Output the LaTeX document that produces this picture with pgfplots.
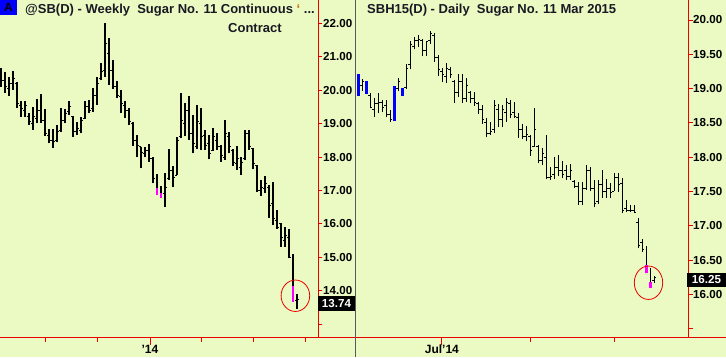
\documentclass[border=0pt]{standalone}
\usepackage{pgfplots}
\pgfplotsset{compat=1.18}
\usepackage{pgfplotstable}
\usepackage{fontspec}
\setmainfont{Liberation Sans}
\definecolor{bg}{RGB}{235,250,195}
\definecolor{axred}{RGB}{235,0,0}
\definecolor{hlmag}{RGB}{255,0,255}
\definecolor{hlblue}{RGB}{0,0,255}
\definecolor{titlecol}{RGB}{25,25,35}

\pgfdeclareplotmark{otick}{\pgfpathmoveto{\pgfqpoint{-1.9pt}{0pt}}\pgfpathlineto{\pgfqpoint{0pt}{0pt}}\pgfusepathqstroke}
\pgfdeclareplotmark{ctick}{\pgfpathmoveto{\pgfqpoint{0pt}{0pt}}\pgfpathlineto{\pgfqpoint{1.9pt}{0pt}}\pgfusepathqstroke}
\pgfdeclareplotmark{nomark}{}

\pgfplotstableread{
x h l o c
0 20.65 20.10 20.45 20.30
1 20.53 19.91 20.30 20.10
2 20.40 19.83 20.05 20.20
3 20.57 20.00 20.20 20.35
4 20.25 19.46 20.20 19.60
5 19.68 19.21 19.55 19.45
6 19.68 19.21 19.40 19.55
7 19.31 18.96 19.20 19.05
8 19.51 18.81 19.00 19.20
9 19.74 19.01 19.15 19.40
10 19.88 19.01 19.40 19.10
11 19.44 18.64 19.10 18.70
12 18.84 18.41 18.65 18.50
13 18.84 18.28 18.50 18.45
14 18.96 18.44 18.50 18.75
15 19.46 18.76 18.80 19.10
16 19.44 19.01 19.10 19.30
17 19.68 19.26 19.35 19.50
18 19.24 18.61 19.20 18.75
19 19.04 18.66 18.75 18.85
20 19.21 18.71 18.80 19.10
21 19.68 19.14 19.15 19.50
22 19.71 19.31 19.50 19.40
23 20.07 19.36 19.45 19.85
24 20.40 19.56 19.85 20.20
25 20.80 20.30 20.35 20.55
26 22.00 20.39 20.60 21.40
27 21.56 20.15 21.10 20.60
28 20.90 20.03 20.60 20.10
29 20.28 19.76 20.10 19.85
30 20.00 19.31 19.80 19.60
31 19.68 19.16 19.55 19.40
32 19.46 18.96 19.40 19.05
33 19.06 18.33 19.00 18.50
34 18.66 18.01 18.50 18.35
35 18.29 17.66 18.30 18.15
36 18.29 17.99 18.10 18.20
37 18.39 17.86 18.20 17.95
38 18.01 17.21 17.95 17.35
39 17.49 16.86 nan nan
40 17.13 16.77 nan nan
41 17.51 16.50 16.90 17.10
42 18.23 17.31 17.35 17.60
43 17.73 17.09 17.60 17.40
44 18.61 17.46 17.45 18.50
45 19.92 18.56 18.60 19.10
46 19.61 18.63 19.00 19.40
47 19.83 18.51 19.40 18.70
48 19.26 18.11 18.70 18.40
49 19.56 18.23 18.30 19.05
50 19.46 18.21 19.00 18.60
51 18.81 18.21 18.65 18.35
52 18.66 17.93 18.40 18.10
53 18.86 18.19 18.20 18.60
54 18.71 18.21 18.50 18.30
55 18.36 17.86 18.30 18.05
56 19.11 17.91 18.00 18.70
57 18.76 18.11 18.60 18.30
58 18.23 17.73 18.20 17.85
59 18.33 17.61 17.80 17.95
60 17.99 17.46 17.70 17.85
61 18.81 17.91 17.95 18.70
62 18.81 18.21 18.70 18.30
63 18.26 17.63 18.25 17.80
64 17.76 16.96 17.75 17.00
65 17.31 16.83 17.00 17.10
66 17.43 16.91 17.05 17.20
67 17.16 16.17 17.10 16.55
68 17.26 15.97 16.60 16.15
69 16.42 15.84 16.10 15.90
70 16.02 15.32 16.00 15.60
71 15.92 15.32 15.50 15.65
72 15.84 14.97 15.60 15.00
73 15.10 13.67 nan nan
74 13.90 13.45 13.70 13.74
}\weekly

\pgfplotstableread{
x t b
39 17.08 16.86
40 16.91 16.77
73 14.14 13.67
}\weekmag

\pgfplotstableread{
x h l o c
0 19.21 18.89 nan nan
1 19.14 18.97 19.05 19.10
2 19.11 18.92 nan nan
3 18.94 18.71 18.90 18.72
4 18.86 18.59 18.70 18.78
5 18.93 18.65 18.78 18.80
6 18.83 18.66 18.80 18.72
7 18.84 18.58 18.75 18.62
8 18.69 18.52 18.62 18.55
9 19.04 18.53 nan nan
10 19.16 18.97 19.00 19.10
11 19.01 18.89 nan nan
12 19.36 19.00 19.02 19.30
13 19.70 19.28 19.35 19.65
14 19.75 19.57 19.62 19.70
15 19.78 19.61 19.70 19.72
16 19.72 19.47 19.70 19.55
17 19.70 19.48 19.55 19.68
18 19.84 19.65 19.70 19.80
19 19.81 19.39 19.78 19.45
20 19.49 19.18 19.45 19.28
21 19.30 19.09 19.25 19.20
22 19.37 19.08 19.18 19.30
23 19.32 19.16 19.28 19.20
24 19.13 18.79 19.10 18.95
25 19.22 18.88 18.95 19.10
26 19.22 18.79 19.10 18.85
27 19.15 18.81 18.85 19.05
28 18.97 18.79 18.95 18.85
29 18.95 18.75 18.85 18.80
30 18.81 18.63 18.78 18.70
31 18.76 18.49 18.70 18.55
32 18.57 18.29 18.50 18.35
33 18.51 18.32 18.35 18.37
34 18.83 18.35 18.40 18.75
35 18.77 18.44 18.70 18.55
36 18.76 18.44 18.55 18.70
37 18.86 18.52 18.65 18.80
38 18.83 18.57 18.78 18.62
39 18.80 18.57 18.65 18.60
40 18.64 18.28 18.58 18.40
41 18.48 18.27 18.40 18.30
42 18.46 18.23 18.30 18.33
43 18.33 18.02 18.30 18.10
44 18.71 18.15 18.15 18.40
45 18.18 17.91 18.15 17.95
46 18.13 17.89 17.95 18.05
47 18.32 17.68 18.00 17.70
48 17.85 17.67 17.70 17.72
49 18.01 17.68 17.75 17.85
50 18.03 17.72 17.85 17.80
51 17.94 17.69 17.80 17.75
52 17.89 17.67 17.80 17.72
53 17.90 17.67 17.72 17.80
54 17.67 17.55 17.65 17.58
55 17.64 17.30 17.58 17.35
56 17.64 17.30 17.35 17.55
57 17.89 17.52 17.55 17.80
58 17.86 17.50 17.80 17.55
59 17.67 17.27 17.55 17.32
60 17.67 17.32 17.35 17.60
61 17.81 17.41 17.60 17.50
62 17.68 17.41 17.50 17.55
63 17.63 17.41 17.55 17.48
64 17.77 17.51 17.50 17.70
65 17.77 17.49 17.70 17.60
66 17.69 17.18 17.62 17.22
67 17.38 17.20 17.25 17.22
68 17.30 17.20 17.22 17.22
69 17.30 17.19 17.22 17.20
70 17.11 16.67 17.05 16.72
71 16.81 16.62 16.75 16.65
72 16.70 16.31 nan nan
73 16.38 16.10 nan nan
74 16.27 16.17 16.20 16.25
}\daily

\pgfplotstableread{
x t b
0 19.21 18.89
2 19.11 18.92
9 19.04 18.53
11 19.01 18.89
}\dailyblue

\pgfplotstableread{
x t b
72 16.43 16.31
73 16.18 16.10
}\dailymag

\pgfplotsset{
  chartbase/.style={
    scale only axis, width=318pt, height=337pt, anchor=south west,
    axis line style={draw=none},
    ytick pos=right, yticklabel pos=right, xtick pos=bottom,
    tick align=outside, major tick length=4.5pt,
    tick style={axred, line width=0.9pt},
    yticklabel style={font=\bfseries\fontsize{11.6}{13}\selectfont, text=black, anchor=west, inner sep=0pt, xshift=0.5pt},
    xticklabel style={font=\bfseries\fontsize{12}{13}\selectfont, text=black, anchor=north, inner sep=0pt},
    extra x tick style={major tick length=8pt},
    clip=false,
  },
  hlbar/.style={only marks, mark=nomark, black, forget plot,
    error bars/.cd, y dir=plus, y explicit, error mark=none,
    error bar style={line width=1.1pt, black}},
  body/.style={only marks, mark=nomark, #1, forget plot,
    error bars/.cd, y dir=plus, y explicit, error mark=none,
    error bar style={line width=2.8pt, #1}},
  opn/.style={only marks, mark=otick, mark options={line width=1pt, black}, forget plot},
  cls/.style={only marks, mark=ctick, mark options={line width=1pt, black}, forget plot},
}

\begin{document}
\begin{tikzpicture}[x=1pt,y=1pt]
\path[use as bounding box] (0,0) rectangle (726,357);
\fill[bg] (0,0) rectangle (726,357);

% Left panel: weekly
\begin{axis}[chartbase, at={(0pt,20pt)},
  xmin=-0.25, xmax=79.25, ymin=12.616, ymax=22.697,
  ytick={13,14,15,16,17,18,19,20,21,22},
  yticklabels={,14.00,15.00,16.00,17.00,18.00,19.00,20.00,21.00,22.00},
  xtick={11,24,50,63,76}, xticklabels={,,,,},
  extra x ticks={37.25}, extra x tick labels={'14},
]
\addplot[hlbar] table[x=x, y=l, y error plus expr=\thisrow{h}-\thisrow{l}] {\weekly};
\addplot[opn] table[x=x, y=o] {\weekly};
\addplot[cls] table[x=x, y=c] {\weekly};
\addplot[body=hlmag] table[x=x, y=b, y error plus expr=\thisrow{t}-\thisrow{b}] {\weekmag};
\draw[axred, line width=0.8pt] (axis cs:73.6,13.85) ellipse [x radius=14.3pt, y radius=15.7pt];
\end{axis}

% Right panel: daily
\begin{axis}[chartbase, at={(356pt,20pt)}, width=332pt,
  xmin=-0.575, xmax=82.425, ymin=15.379, ymax=20.2915,
  ytick={15.5,16,16.5,17,17.5,18,18.5,19,19.5,20},
  yticklabels={,16.00,16.50,17.00,17.50,18.00,18.50,19.00,19.50,20.00},
  xtick={43,64}, xticklabels={,},
  extra x ticks={20.9}, extra x tick labels={Jul'14},
]
\addplot[hlbar] table[x=x, y=l, y error plus expr=\thisrow{h}-\thisrow{l}] {\daily};
\addplot[opn] table[x=x, y=o] {\daily};
\addplot[cls] table[x=x, y=c] {\daily};
\addplot[body=hlblue] table[x=x, y=b, y error plus expr=\thisrow{t}-\thisrow{b}] {\dailyblue};
\addplot[body=hlmag] table[x=x, y=b, y error plus expr=\thisrow{t}-\thisrow{b}] {\dailymag};
\draw[axred, line width=0.8pt] (axis cs:72.55,16.17) ellipse [x radius=14.2pt, y radius=16.7pt];
\end{axis}

% frame lines
\draw[axred, line width=1pt] (318,357) -- (318,20);
\draw[axred, line width=1pt] (0,20) -- (356,20);
\draw[axred, line width=1pt] (688,357) -- (688,20);
\draw[axred, line width=1pt] (356,20) -- (726,20);
\draw[black!65, line width=1.3pt] (355.6,0) -- (355.6,357);

% last price boxes
\node[fill=black, text=white, font=\bfseries\fontsize{11.6}{13}\selectfont, minimum width=37pt, minimum height=15pt, inner sep=0pt] at (336.5,53.5) {13.74};
\node[fill=black, text=white, font=\bfseries\fontsize{11.6}{13}\selectfont, minimum width=39pt, minimum height=14pt, inner sep=0pt] at (706.5,77.3) {16.25};

% titles
\fill[hlblue] (0,342) rectangle (17,357);
\node[font=\bfseries\fontsize{12}{13}\selectfont, text=black] at (8.5,349.5) {A};
\node[anchor=base west, inner sep=0pt, font=\bfseries\fontsize{13}{15}\selectfont, text=titlecol] at (25,343) {@SB(D) - Weekly\ \ Sugar No. 11 Continuous {\color{orange!80!black}‘} ...};
\node[anchor=base west, inner sep=0pt, font=\bfseries\fontsize{13}{15}\selectfont, text=titlecol] at (228,324) {Contract};
\node[anchor=base west, inner sep=0pt, font=\bfseries\fontsize{13}{15}\selectfont, text=titlecol] at (367,343) {SBH15(D) - Daily\ \ Sugar No. 11 Mar 2015};
\end{tikzpicture}
\end{document}
